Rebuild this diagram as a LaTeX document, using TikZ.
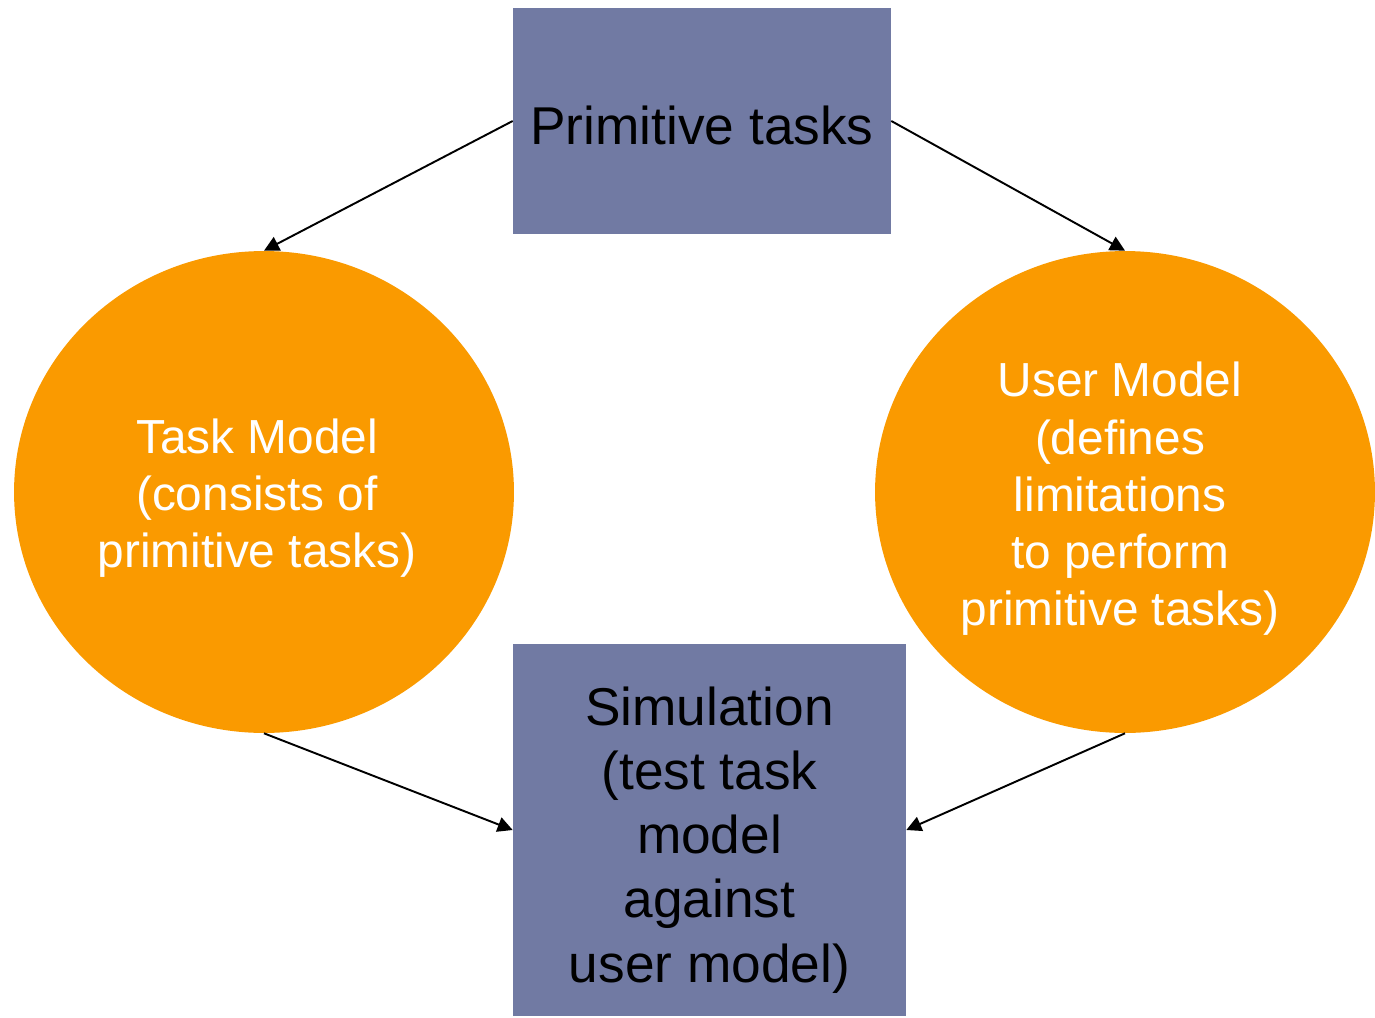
\documentclass[tikz,border=0pt]{standalone}
\usepackage{fontspec}
\setmainfont{Liberation Sans}
\usetikzlibrary{shapes.geometric, arrows.meta}
\definecolor{slate}{RGB}{113,122,163}
\definecolor{amber}{RGB}{250,154,0}
\tikzstyle{block} = [rectangle, fill=slate, inner sep=0pt]
\tikzstyle{blocktext} = [text=black, align=center, font=\fontsize{30.3}{36.5}\selectfont]
\tikzstyle{model} = [ellipse, fill=amber, inner sep=0pt, minimum width=10cm, minimum height=9.64cm]
\tikzstyle{modeltext} = [text=white, align=center, font=\fontsize{27.2}{32.6}\selectfont]
\tikzstyle{arrow} = [line width=1.1pt, -{Triangle[length=0.3cm, width=0.3cm]}]

\begin{document}
\begin{tikzpicture}[x=0.02cm, y=-0.02cm]
	\useasboundingbox (0,0) rectangle (1375,1017);
	\node (prim) [block, minimum width=7.56cm, minimum height=4.52cm,
		label={[blocktext, yshift=-0.08cm]center:Primitive tasks}] at (702,121) {};
	\node (task) [model,
		label={[modeltext, xshift=-0.14cm, yshift=-0.12cm]center:Task Model\\(consists of\\primitive tasks)}] at (264,492) {};
	\node (user) [model,
		label={[modeltext, xshift=-0.1cm, yshift=-0.14cm]center:User Model\\(defines\\limitations\\to perform\\primitive tasks)}] at (1125,492) {};
	\node (sim) [block, minimum width=7.86cm, minimum height=7.44cm,
		label={[blocktext, yshift=-0.2cm]center:Simulation\\(test task\\model\\against\\user model)}] at (709.5,830) {};

	% connect the shapes
	\draw [arrow] (prim.west) -- (task.north);
	\draw [arrow] (prim.east) -- (user.north);
	\draw [arrow] (task.south) -- (sim.west);
	\draw [arrow] (user.south) -- (sim.east);
\end{tikzpicture}
\end{document}
